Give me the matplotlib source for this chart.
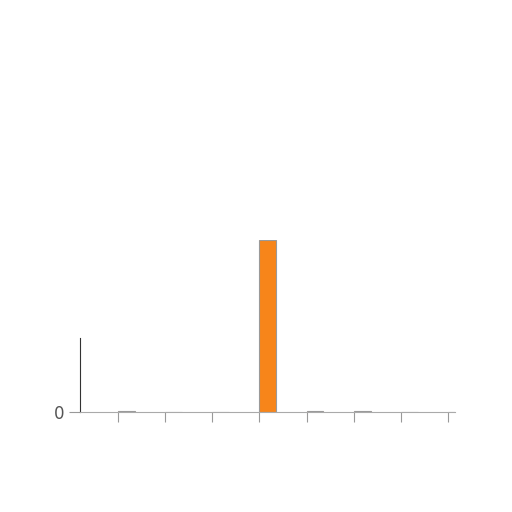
import matplotlib
matplotlib.use("Agg")
import matplotlib.pyplot as plt

# data
positions = [1, 2, 3, 4, 5, 6, 7, 8]
values = [0.006, 0.0, 0.0, 1.0, 0.006, 0.003, 0.0, 0.0]
ytick_labels = ["0"]

fig = plt.figure(figsize=(5.12, 5.12), dpi=100)
ax = fig.add_axes([80 / 512, 100 / 512, 375 / 512, 172 / 512])

ax.bar(positions, values, width=0.36, align="edge", color="#f7851a",
       edgecolor="#9a9a9a", linewidth=0.8)

ax.set_xlim(0.194, 8.15)
ax.set_ylim(0, 1.0)
ax.set_yticks([0])
ax.set_yticklabels(ytick_labels, fontsize=12, color="#555555")
ax.set_xticks(positions)
ax.set_xticklabels([])

for s in ["top", "right"]:
    ax.spines[s].set_visible(False)
ax.spines["left"].set_bounds(0, 0.43)
ax.spines["left"].set_color("#333333")
ax.spines["bottom"].set_color("#aaaaaa")
ax.tick_params(axis="x", length=7, color="#999999")
ax.tick_params(axis="y", length=8, color="#999999")

fig.savefig("out.png", dpi=100)
